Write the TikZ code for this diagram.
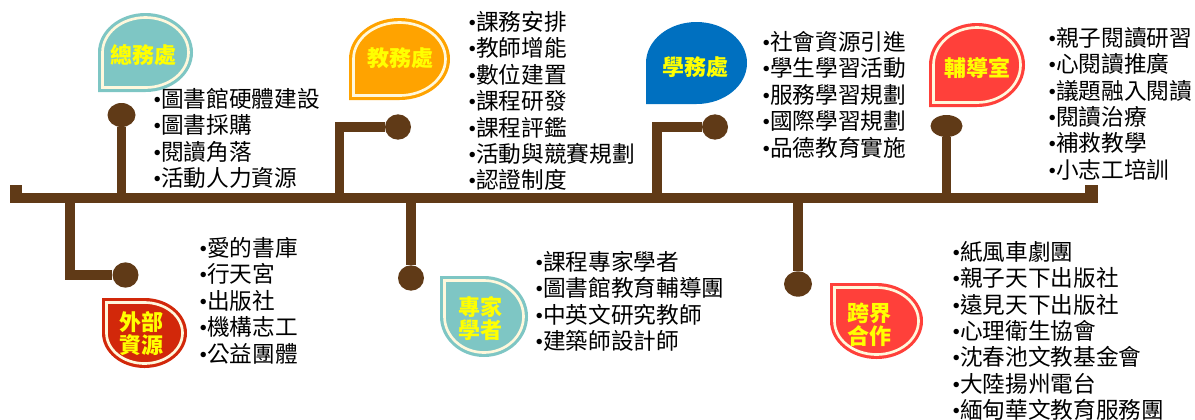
\documentclass[tikz,border=0pt]{standalone}
\usepackage{fontspec}
\setmainfont{Noto Sans CJK TC}
\newfontfamily\dotfont{Liberation Serif}
\newcommand{\itm}{{\dotfont •}}
\usepackage{tikz}
\usetikzlibrary{shapes.geometric}
\definecolor{barbrown}{RGB}{96,58,23}
\definecolor{dropteal}{RGB}{126,198,196}
\definecolor{droporange}{RGB}{255,163,0}
\definecolor{dropblue}{RGB}{0,112,192}
\definecolor{dropred}{RGB}{255,64,58}
\definecolor{dropdark}{RGB}{210,40,10}
\definecolor{dropcream}{RGB}{255,248,220}
\definecolor{labelyellow}{RGB}{255,255,0}

\begin{document}
\begin{tikzpicture}[x=0.75pt,y=0.75pt,yscale=-1,xscale=1,
  stem/.style={draw=barbrown,line width=7pt},
  knob/.style={ellipse,fill=barbrown,inner sep=0pt,minimum width=19.5pt,minimum height=19pt},
  rim/.style={draw=dropcream,line width=2pt},
  droplabel/.style={font=\bfseries\fontsize{16.5}{17.5}\selectfont,color=labelyellow,align=center,inner sep=0pt},
  itemlist/.style={font=\fontsize{17}{19.8}\selectfont,align=left,anchor=north west,inner sep=0pt}]
\useasboundingbox (0,0) rectangle (1195,419);

%Straight Lines: timeline bar
\fill[barbrown] (10,193) rectangle (1098,203);
\fill[barbrown] (10,185) rectangle (22,203);
\fill[barbrown] (1085,185) rectangle (1098,203);

\coordinate (t1) at (121.5,198);
\coordinate (t2) at (70,198);
\coordinate (t3) at (339.5,198);
\coordinate (t4) at (411,198);
\coordinate (t5) at (657,198);
\coordinate (t6) at (798,198);
\coordinate (t7) at (946.5,198);

%Shape: Circle
\node[knob,minimum width=21pt,minimum height=18pt] (k1) at (121.5,115) {};
\node[knob] (k2) at (125.5,275) {};
\node[knob] (k3) at (398,127) {};
\node[knob] (k4) at (411,278) {};
\node[knob] (k5) at (715,127) {};
\node[knob,minimum width=21pt] (k6) at (798,284) {};
\node[knob,minimum width=24pt,minimum height=16.5pt] (k7) at (946.5,126) {};

%Straight Lines: stems
\draw[stem] (t1) -- (k1);
\draw[stem] (t2) |- (k2);
\draw[stem] (t3) |- (k3);
\draw[stem] (t4) -- (k4);
\draw[stem] (t5) |- (k5);
\draw[stem] (t6) -- (k6);
\draw[stem] (t7) -- (k7);

%Shape: Teardrop
\fill[dropteal] (98,52.5) -- (98,92) -- (145.5,92) arc[start angle=90,end angle=-180,x radius=47.5,y radius=39.5] -- cycle;
\draw[rim] (102.5,52.5) -- (102.5,87.5) -- (145.5,87.5) arc[start angle=90,end angle=-180,x radius=43,y radius=35] -- cycle;
%Shape: Teardrop
\fill[droporange] (349,59) -- (349,100) -- (399.5,100) arc[start angle=90,end angle=-180,x radius=50.5,y radius=41] -- cycle;
\draw[rim] (353.5,59) -- (353.5,95.5) -- (399.5,95.5) arc[start angle=90,end angle=-180,x radius=46,y radius=36.5] -- cycle;
%Shape: Teardrop
\fill[dropblue] (646,63) -- (646,104) -- (696.5,104) arc[start angle=90,end angle=-180,x radius=50.5,y radius=41] -- cycle;
%Shape: Teardrop
\fill[dropred] (929,65) -- (929,107) -- (977,107) arc[start angle=90,end angle=-180,x radius=48,y radius=42] -- cycle;
\draw[rim] (933.5,65) -- (933.5,102.5) -- (977,102.5) arc[start angle=90,end angle=-180,x radius=43.5,y radius=37.5] -- cycle;
%Shape: Teardrop
\fill[dropdark] (102,333) -- (102,298) -- (144.5,298) arc[start angle=-90,end angle=180,x radius=42.5,y radius=35] -- cycle;
\draw[rim] (106.5,333) -- (106.5,302.5) -- (144.5,302.5) arc[start angle=-90,end angle=180,x radius=38,y radius=30.5] -- cycle;
%Shape: Teardrop
\fill[dropteal] (440,316.5) -- (440,276) -- (484,276) arc[start angle=-90,end angle=180,x radius=44,y radius=40.5] -- cycle;
\draw[rim] (444.5,316.5) -- (444.5,280.5) -- (484,280.5) arc[start angle=-90,end angle=180,x radius=39.5,y radius=36] -- cycle;
%Shape: Teardrop
\fill[dropred] (830,321) -- (830,283) -- (876.5,283) arc[start angle=-90,end angle=180,x radius=46.5,y radius=38] -- cycle;
\draw[rim] (834.5,321) -- (834.5,287.5) -- (876.5,287.5) arc[start angle=-90,end angle=180,x radius=42,y radius=33.5] -- cycle;

% Text Node
\node[droplabel] (d1) at (143,55) {總務處};
% Text Node
\node[droplabel] (d2) at (400,58) {教務處};
% Text Node
\node[droplabel] (d3) at (695,67) {學務處};
% Text Node
\node[droplabel] (d4) at (977,68) {輔導室};
% Text Node
\node[droplabel] (d5) at (141,333.5) {外部\\資源};
% Text Node
\node[droplabel] (d6) at (480,318.5) {專家\\學者};
% Text Node
\node[droplabel] (d7) at (869,325) {跨界\\合作};

% Text Node
\node[itemlist] (l1) at (153,88) {\itm 圖書館硬體建設\\\itm 圖書採購\\\itm 閱讀角落\\\itm 活動人力資源};
% Text Node
\node[itemlist] (l2) at (468,11) {\itm 課務安排\\\itm 教師增能\\\itm 數位建置\\\itm 課程研發\\\itm 課程評鑑\\\itm 活動與競賽規劃\\\itm 認證制度};
% Text Node
\node[itemlist] (l3) at (762,31) {\itm 社會資源引進\\\itm 學生學習活動\\\itm 服務學習規劃\\\itm 國際學習規劃\\\itm 品德教育實施};
% Text Node
\node[itemlist] (l4) at (1048,27) {\itm 親子閱讀研習\\\itm 心閱讀推廣\\\itm 議題融入閱讀\\\itm 閱讀治療\\\itm 補救教學\\\itm 小志工培訓};
% Text Node
\node[itemlist] (l5) at (199,237) {\itm 愛的書庫\\\itm 行天宮\\\itm 出版社\\\itm 機構志工\\\itm 公益團體};
% Text Node
\node[itemlist] (l6) at (535,251) {\itm 課程專家學者\\\itm 圖書館教育輔導團\\\itm 中英文研究教師\\\itm 建築師設計師};
% Text Node
\node[itemlist] (l7) at (952,241) {\itm 紙風車劇團\\\itm 親子天下出版社\\\itm 遠見天下出版社\\\itm 心理衛生協會\\\itm 沈春池文教基金會\\\itm 大陸揚州電台\\\itm 緬甸華文教育服務團};

\end{tikzpicture}
\end{document}
